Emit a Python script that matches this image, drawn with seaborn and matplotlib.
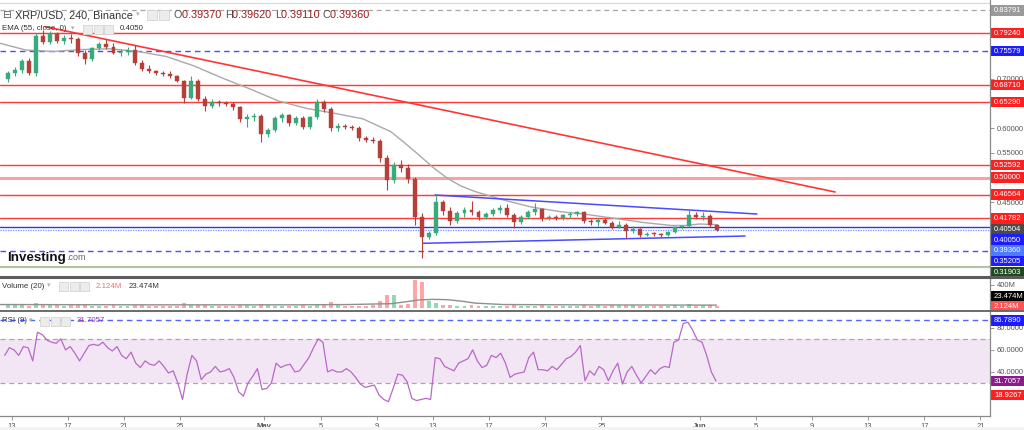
import numpy as np
import pandas as pd
import matplotlib
matplotlib.use("Agg")
import matplotlib.pyplot as plt
import matplotlib.dates as mdates
from matplotlib.patches import Rectangle
from matplotlib.lines import Line2D
import seaborn as sns

# ---------------- data ----------------
CANDLE_START = "2022-04-12 12:00"   # 12h candles
opens = [0.700,0.712,0.718,0.735,0.712,0.786,0.775,0.790,0.776,0.782,
         0.780,0.752,0.740,0.762,0.770,0.765,0.752,0.755,0.758,0.732,
         0.720,0.716,0.712,0.710,0.705,0.696,0.662,0.695,0.660,0.645,
         0.652,0.650,0.648,0.642,0.618,0.622,0.625,0.588,0.596,0.620,
         0.626,0.610,0.620,0.602,0.622,0.652,0.638,0.600,0.605,0.603,
         0.600,0.580,0.576,0.575,0.540,0.495,0.525,0.520,0.498,0.420,
         0.380,0.388,0.450,0.432,0.412,0.428,0.435,0.430,0.420,0.426,
         0.434,0.438,0.425,0.410,0.420,0.430,0.436,0.418,0.420,0.418,
         0.424,0.427,0.430,0.412,0.410,0.414,0.409,0.400,0.405,0.392,
         0.396,0.385,0.387,0.386,0.385,0.390,0.400,0.402,0.424,0.420,
         0.422,0.404]
highs = [0.716,0.724,0.740,0.742,0.792,0.798,0.797,0.795,0.788,0.790,
         0.785,0.758,0.765,0.775,0.780,0.772,0.760,0.765,0.768,0.738,
         0.728,0.718,0.716,0.715,0.708,0.698,0.705,0.700,0.665,0.658,
         0.656,0.655,0.652,0.645,0.628,0.630,0.628,0.600,0.625,0.630,
         0.628,0.625,0.624,0.625,0.660,0.656,0.642,0.610,0.608,0.606,
         0.604,0.584,0.582,0.578,0.545,0.532,0.535,0.528,0.502,0.428,
         0.392,0.466,0.455,0.440,0.432,0.440,0.452,0.435,0.430,0.438,
         0.444,0.446,0.428,0.425,0.435,0.448,0.438,0.425,0.424,0.426,
         0.430,0.433,0.433,0.416,0.418,0.418,0.412,0.412,0.408,0.402,
         0.398,0.390,0.390,0.389,0.392,0.403,0.404,0.436,0.430,0.430,
         0.426,0.406]
lows = [0.694,0.705,0.712,0.708,0.705,0.770,0.770,0.772,0.770,0.772,
        0.745,0.730,0.735,0.758,0.760,0.750,0.745,0.748,0.728,0.715,
        0.712,0.708,0.706,0.702,0.693,0.650,0.658,0.655,0.635,0.640,
        0.644,0.644,0.636,0.612,0.603,0.615,0.572,0.582,0.592,0.612,
        0.605,0.606,0.598,0.598,0.618,0.632,0.595,0.595,0.598,0.596,
        0.575,0.572,0.570,0.532,0.475,0.490,0.512,0.490,0.405,0.338,
        0.375,0.384,0.425,0.405,0.408,0.420,0.425,0.415,0.416,0.422,
        0.428,0.420,0.398,0.406,0.416,0.425,0.412,0.414,0.415,0.415,
        0.419,0.423,0.408,0.405,0.402,0.406,0.396,0.398,0.378,0.388,
        0.380,0.382,0.383,0.381,0.383,0.388,0.397,0.400,0.416,0.415,
        0.400,0.392]
closes = [0.712,0.718,0.735,0.712,0.786,0.775,0.790,0.776,0.782,0.780,
          0.752,0.740,0.762,0.770,0.765,0.752,0.755,0.758,0.732,0.720,
          0.716,0.712,0.710,0.705,0.696,0.662,0.695,0.660,0.645,0.652,
          0.650,0.648,0.642,0.618,0.622,0.625,0.588,0.596,0.620,0.626,
          0.610,0.620,0.602,0.622,0.652,0.638,0.600,0.605,0.603,0.600,
          0.580,0.576,0.575,0.540,0.495,0.525,0.520,0.498,0.420,0.380,
          0.388,0.450,0.432,0.412,0.428,0.435,0.430,0.420,0.426,0.434,
          0.438,0.425,0.410,0.420,0.430,0.436,0.418,0.420,0.418,0.424,
          0.427,0.430,0.412,0.410,0.414,0.409,0.400,0.405,0.392,0.396,
          0.385,0.387,0.386,0.385,0.390,0.400,0.402,0.424,0.420,0.422,
          0.404,0.3936]
volumes_m = [50,45,55,40,90,60,45,50,40,45,
             55,45,40,35,40,45,35,40,55,45,
             35,30,30,35,40,80,55,50,45,35,
             30,30,35,55,45,35,70,45,40,35,
             40,35,45,40,75,45,110,50,40,35,
             40,40,45,120,220,230,60,70,480,460,
             120,90,50,45,40,40,55,40,35,35,
             35,40,50,40,35,40,45,30,30,30,
             30,35,55,40,50,35,45,55,60,45,
             40,30,30,30,35,45,35,70,40,45,
             55,35]

# EMA(55): day offset from Apr 13 00:00, value
ema_day = [-0.83, 1, 3, 5, 7, 9, 11, 13, 15, 17, 19, 21, 23, 25, 27, 28, 29, 30,
           31, 32, 33, 35, 37, 39, 41, 43, 45, 47, 48, 49, 50.2]
ema_val = [0.7716, 0.758, 0.755, 0.759, 0.7605, 0.755, 0.745, 0.7257, 0.7014, 0.679,
           0.655, 0.640, 0.630, 0.619, 0.593, 0.570, 0.546, 0.521, 0.4993, 0.483,
           0.472, 0.455, 0.4407, 0.4316, 0.4255, 0.4175, 0.4093, 0.4033, 0.4033,
           0.4063, 0.4050]

# Volume MA(20)
vol_ma_day = [-0.83, 10, 20, 24, 27, 28, 29, 30, 31, 32, 33, 35, 40, 45, 50.2]
vol_ma_val = [60, 55, 55, 60, 75, 105, 140, 150, 145, 120, 85, 60, 55, 52, 50]

# RSI(9), 8h steps from Apr 12 12:00
RSI_START = "2022-04-12 12:00"
rsi_vals = [55,62,60,55,63,62,50,76,74,69,67,66,70,60,63,57,50,57,64,65,
            64,67,62,59,63,55,52,58,48,44,50,47,46,50,45,39,41,30,15,38,
            55,50,33,38,40,45,40,41,43,35,22,18,30,36,43,24,25,30,48,44,
            46,47,40,41,47,53,62,70,67,40,42,40,40,43,40,35,29,26,27,28,
            19,15,13,25,38,37,31,16,14,15,16,15,53,52,45,43,41,48,50,52,
            60,50,44,46,55,53,57,48,35,38,39,40,53,58,42,42,41,45,42,47,
            52,54,58,64,32,41,37,45,42,32,41,48,29,40,45,37,30,36,42,38,
            43,45,44,67,69,84,85,78,69,67,55,40,31.7]

# Drawn trendlines (day offset, price)
red_tl_day, red_tl_price = [2.37, 58.65], [0.8053, 0.4710]
blue_up_day, blue_up_price = [30.15, 53.08], [0.4649, 0.4265]
blue_lo_day, blue_lo_price = [29.30, 52.23], [0.3673, 0.3820]

red_levels = [0.79240, 0.68710, 0.65290, 0.52592, 0.46564, 0.41782]
pink_level = 0.50000
blue_dash_levels = [0.75579, 0.35205]
blue_solid_level = 0.40050
last_price = 0.39360
gray_dash_level = 0.83791
olive_level = 0.31903
ema_last = 0.40504

price_labels = [(0.83791, "#9a9a9a"), (0.79240, "#ff1f1f"), (0.75579, "#1c1cff"),
                (0.68710, "#ff1f1f"), (0.65290, "#ff1f1f"), (0.52592, "#ff1f1f"),
                (0.50000, "#ff1f1f"), (0.46564, "#ff1f1f"), (0.41782, "#ff1f1f"),
                (0.40504, "#4a4a4a"), (0.40050, "#1c1cff"), (0.39360, "#4f7cff"),
                (0.35205, "#1c1cff"), (0.31903, "#1f4a1f")]
price_ticks = [0.45, 0.55, 0.60, 0.70]      # the axis ticks left visible between labels
rsi_ticks = [40, 60, 80]
rsi_marks = [(86.7890, "#1c1cff"), (31.7057, "#8a1c8a"), (18.9267, "#ff1f1f")]

tick_days = [0, 4, 8, 12, 18, 22, 26, 30, 34, 38, 42, 49, 53, 57, 61, 65, 69]
tick_labels = ["13", "17", "21", "25", "May", "5", "9", "13", "17", "21", "25",
               "Jun", "5", "9", "13", "17", "21"]

ohlc_text = [("O", "0.39370"), ("H", "0.39620"), ("L", "0.39110"), ("C", "0.39360")]

# ---------------- figure ----------------
sns.set_theme(style="white")
plt.rcParams["font.family"] = ["Liberation Sans", "DejaVu Sans"]

W, H = 1024, 430
fig = plt.figure(figsize=(W / 100, H / 100), dpi=100)
fig.patch.set_facecolor("white")
PR = 990  # right edge of plotting area (px)

ax_p = fig.add_axes([0, 1 - 276 / H, PR / W, 276 / H])
ax_v = fig.add_axes([0, 1 - 310 / H, PR / W, 33 / H])
ax_r = fig.add_axes([0, 1 - 416 / H, PR / W, 105 / H])

base = pd.Timestamp("2022-04-13")


def dnum(days):
    return mdates.date2num(base + pd.to_timedelta(np.asarray(days, dtype=float), unit="D"))


X0, X1 = dnum([-0.833, 69.68])
P_TOP, P_BOT = 0.85911, 0.30120
R_TOP, R_BOT = 95.3, 0.0

o, h, l, c = map(np.asarray, (opens, highs, lows, closes))
n = len(c)
centers = pd.Timestamp(CANDLE_START) + pd.to_timedelta(np.arange(n) * 12 + 6, unit="h")
cx = mdates.date2num(centers)
up = c >= o
UP, DN = "#3aa97c", "#b53f39"
cols = np.where(up, UP, DN)
BW = 0.28

# --- price panel ---
for p in red_levels:
    ax_p.axhline(p, color="#ff8080", lw=2.0, alpha=0.3, zorder=1)
    ax_p.axhline(p, color="#ff3d3d", lw=0.8, zorder=1.1)
ax_p.axhline(pink_level, color="#ffa0a0", lw=2.2, zorder=1)
for p in blue_dash_levels:
    ax_p.axhline(p, color="#4c4cff", lw=1.0, ls=(0, (4, 3)), zorder=1)
ax_p.axhline(blue_solid_level, color="#3434f0", lw=1.0, zorder=1)
ax_p.axhline(last_price, color="#6f8cff", lw=0.9, ls=(0, (1, 1)), zorder=1)
ax_p.axhline(gray_dash_level, color="#a6a6a6", lw=0.9, ls=(0, (4, 3)), zorder=1)
ax_p.axhline(olive_level, color="#b4c2a6", lw=1.6, zorder=1)

sns.lineplot(x=dnum(ema_day), y=ema_val, ax=ax_p, color="#a9a9a9", lw=1.0, zorder=2)
sns.lineplot(x=dnum(red_tl_day), y=red_tl_price, ax=ax_p, color="#ff3535", lw=1.2, zorder=2.5)
sns.lineplot(x=dnum(blue_up_day), y=blue_up_price, ax=ax_p, color="#4a4aff", lw=1.1, zorder=2.5)
sns.lineplot(x=dnum(blue_lo_day), y=blue_lo_price, ax=ax_p, color="#4a4aff", lw=1.1, zorder=2.5)

ax_p.vlines(cx, l, h, colors=cols, lw=0.8, zorder=3)
body_lo = np.minimum(o, c)
body_h = np.maximum(np.abs(c - o), 0.0016)
ax_p.bar(cx, body_h, bottom=body_lo, width=BW, color=cols, edgecolor=cols, lw=0.3, zorder=4)
ax_p.set_ylim(P_BOT, P_TOP)
ax_p.set_yticks(price_ticks)
ax_p.yaxis.set_major_formatter(matplotlib.ticker.FormatStrFormatter("%.5f"))

# --- volume panel ---
vcol = np.where(up, "#8fd9b6", "#ffa5a5")
ax_v.bar(cx, volumes_m, width=BW, color=vcol, lw=0, zorder=2)
sns.lineplot(x=dnum(vol_ma_day), y=vol_ma_val, ax=ax_v, color="#8f8f8f", lw=1.0, zorder=3)
ax_v.set_ylim(-35, 539)
ax_v.set_yticks([400])
ax_v.set_yticklabels(["400M"])

# --- RSI panel ---
rsi_x = mdates.date2num(pd.Timestamp(RSI_START) + pd.to_timedelta(np.arange(len(rsi_vals)) * 8, unit="h"))
ax_r.axhspan(30, 70, color="#f3e6f4", lw=0, zorder=0)
ax_r.axhline(70, color="#a8a8a8", lw=0.9, ls=(0, (4, 3)), zorder=1)
ax_r.axhline(30, color="#a8a8a8", lw=0.9, ls=(0, (4, 3)), zorder=1)
ax_r.axhline(rsi_marks[0][0], color="#5563ff", lw=1.0, ls=(0, (4, 3)), zorder=1)
sns.lineplot(x=rsi_x, y=rsi_vals, ax=ax_r, color="#b868c9", lw=0.9, zorder=3)
ax_r.set_ylim(R_BOT, R_TOP)
ax_r.set_yticks(rsi_ticks)
ax_r.yaxis.set_major_formatter(matplotlib.ticker.FormatStrFormatter("%.4f"))

for ax in (ax_p, ax_v, ax_r):
    ax.set_xlim(X0, X1)
    ax.set_facecolor("white")
    ax.grid(False)
    ax.set_xlabel("")
    ax.set_ylabel("")
    for s in ax.spines.values():
        s.set_visible(False)
    ax.yaxis.tick_right()
    ax.tick_params(axis="y", which="both", right=True, left=False, length=3, width=0.6,
                   color="#888888", labelsize=5.5, labelcolor="#555555", pad=2)
    ax.tick_params(axis="x", bottom=False, labelbottom=False)

ax_r.spines["bottom"].set_visible(True)
ax_r.spines["bottom"].set_color("#888888")
ax_r.spines["bottom"].set_linewidth(0.9)
ax_r.set_xticks(dnum(tick_days))
ax_r.set_xticklabels(tick_labels)
ax_r.tick_params(axis="x", bottom=True, labelbottom=True, length=3, width=0.6, color="#888888",
                 labelsize=5.5, labelcolor="#555555", pad=2)
for t in ax_r.get_xticklabels():
    if t.get_text() in ("May", "Jun"):
        t.set_fontweight("bold")


# ---------------- overlays in pixel space ----------------
def F(x, y):
    return x / W, 1 - y / H


def hline_px(x0, x1, y, color, lw, z=5):
    fig.add_artist(Line2D([x0 / W, x1 / W], [1 - y / H] * 2, transform=fig.transFigure,
                          color=color, lw=lw, zorder=z))


def box_label(y, text, bg, fg="white"):
    fig.add_artist(Rectangle(F(991, y + 5.3), 33 / W, 10.6 / H, transform=fig.transFigure,
                             facecolor=bg, edgecolor="none", zorder=3))
    fig.text(*F(994, y + 0.3), text, color=fg, fontsize=5.5, va="center", ha="left", zorder=4)


def price_px(p):
    return (P_TOP - p) / (P_TOP - P_BOT) * 276


def rsi_px(v):
    return 311 + (R_TOP - v) / (R_TOP - R_BOT) * 105


prev = -100
for p, col in sorted(price_labels, key=lambda t: -t[0]):
    y = max(price_px(p), prev + 10.7)
    box_label(y, f"{p:.5f}", col)
    prev = y

box_label(296.5, "23.474M", "#000000")
box_label(306.0, "2.124M", "#ff5252")
for v, col in rsi_marks:
    box_label(rsi_px(v), f"{v:.4f}", col)

# axis frame lines
fig.add_artist(Line2D([PR / W] * 2, [1 - 416 / H, 1.0], transform=fig.transFigure,
                      color="#8a8a8a", lw=0.9, zorder=5))
hline_px(0, W, 276.5, "#5c5c5c", 2.2, z=6)
hline_px(0, W, 310.6, "#6a6a6a", 1.4, z=6)
hline_px(0, PR, 2.5, "#d8d8d8", 0.8, z=2)

renderer = fig.canvas.get_renderer()


def seq_text(x, y, parts, size):
    for s, col, kw in parts:
        opts = dict(color=col, fontsize=size, va="center", ha="left", zorder=6)
        opts.update(kw)
        t = fig.text(*F(x, y), s, **opts)
        x += t.get_window_extent(renderer).width
    return x


def icons(x, y, k, size=9):
    for i in range(k):
        fig.add_artist(Rectangle(F(x + i * (size + 1.5), y + size / 2), size / W, size / H,
                                 transform=fig.transFigure, facecolor="#ececec",
                                 edgecolor="#d4d4d4", lw=0.6, zorder=6))


def caret(x, y):
    fig.text(*F(x, y), "\u25be", color="#b0b0b0", fontsize=5, va="center", ha="left", zorder=6)


# title row
fig.text(*F(2, 14.5), "\u229f", color="#555555", fontsize=7.5, va="center", ha="left",
         family=["DejaVu Sans"], zorder=6)
xe = seq_text(15, 15, [("XRP/USD, 240, Binance", "#333333", {})], 7.8)
caret(xe + 3, 15)
icons(147, 15, 2, size=10)
parts = []
for k, v in ohlc_text:
    parts += [(k, "#555555", {}), (v + " ", "#9b1c1c", {})]
seq_text(174, 15, parts, 7.8)

# EMA legend
seq_text(2, 29, [("EMA (55, close, 0)", "#333333", {})], 5.7)
caret(71, 29)
icons(83, 29, 3)
seq_text(120, 29, [(f"{ema_last:.4f}", "#333333", {})], 5.7)

# Volume legend
seq_text(2, 286, [("Volume (20)", "#333333", {})], 5.7)
caret(47, 286)
icons(59, 286, 3)
seq_text(96, 286, [("2.124M", "#f07070", {})], 5.7)
seq_text(129, 286, [("23.474M", "#333333", {})], 5.7)

# RSI legend
seq_text(2, 321, [("RSI (9)", "#333333", {})], 5.7)
caret(29, 321)
icons(40, 321, 3)
seq_text(77, 321, [(f"{rsi_marks[1][0]:.4f}", "#9c3fae", {})], 5.7)

# Investing.com logo
seq_text(7, 257.5, [("Investing", "#111111", {"fontweight": "bold"}),
                    (".com", "#666666", {"fontsize": 6.5})], 9.6)

fig.add_artist(Rectangle((0, 0), 1, 3 / H, transform=fig.transFigure,
                         facecolor="#f2f2f2", edgecolor="none", zorder=1))

fig.savefig("out.png", dpi=100)
